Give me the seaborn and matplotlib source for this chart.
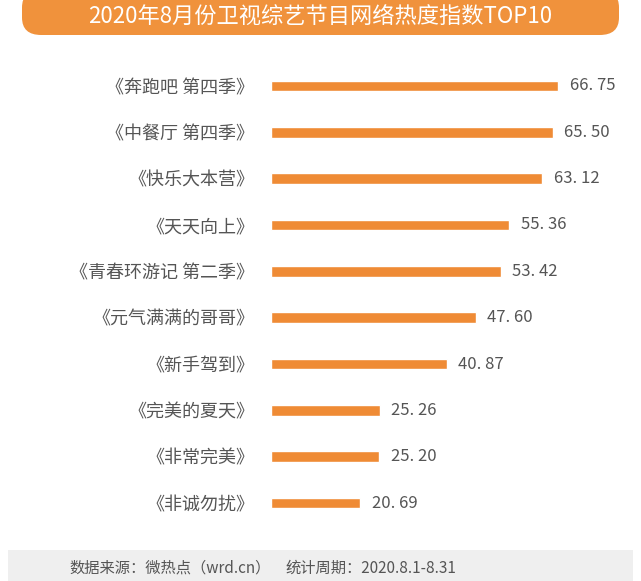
import numpy as np
import pandas as pd
import seaborn as sns
import matplotlib.pyplot as plt
from matplotlib.patches import FancyBboxPatch, Rectangle

shows = ['《奔跑吧 第四季》', '《中餐厅 第四季》', '《快乐大本营》', '《天天向上》',
         '《青春环游记 第二季》', '《元气满满的哥哥》', '《新手驾到》',
         '《完美的夏天》', '《非常完美》', '《非诚勿扰》']
scores = [66.75, 65.50, 63.12, 55.36, 53.42, 47.60, 40.87, 25.26, 25.20, 20.69]
value_labels = ['66.75', '65.50', '63.12', '55.36', '53.42', '47.60', '40.87',
                '25.26', '25.20', '20.69']

df = pd.DataFrame({'show': shows, 'score': scores})

sns.set_theme(style='white')
plt.rcParams['font.family'] = ['Noto Sans CJK SC', 'DejaVu Sans']

W, H = 641, 581
fig = plt.figure(figsize=(W / 100, H / 100), dpi=100)
fig.patch.set_facecolor('white')

# axes placed so that bars start at x=271px and rows span 63..526px
ax_left = 271 / W
ax_bottom = 1 - 526.2 / H
ax_height = (526.2 - 62.8) / H
ax = fig.add_axes([ax_left, ax_bottom, 1 - ax_left, ax_height])

bar_color = '#EF8B35'
sns.barplot(data=df, x='score', y='show', color=bar_color, width=0.23,
            saturation=1, ax=ax)
ax.set_xlim(0, (W - 271) / 4.30)
ax.set_ylim(9.5, -0.5)
ax.set_xlabel('')
ax.set_ylabel('')
ax.set_xticks([])
for s in ax.spines.values():
    s.set_visible(False)
ax.tick_params(axis='y', length=0, pad=12, labelsize=13, labelcolor='#555555')

for i, (v, lab) in enumerate(zip(scores, value_labels)):
    ax.text(v + 2.7, i, lab.replace('.', '. '), va='center', ha='left',
            fontsize=12, color='#555555')

# title banner
banner = FancyBboxPatch((22 / W, 1 - 35 / H), (W - 44) / W, 45 / H,
                        boxstyle='round,pad=0,rounding_size=0.03',
                        transform=fig.transFigure, facecolor='#F0923C',
                        edgecolor='none')
fig.add_artist(banner)
fig.text(0.5, 1 - 17 / H, '2020年8月份卫视综艺节目网络热度指数TOP10',
         ha='center', va='center', color='white', fontsize=16)

# footer band
footer = Rectangle((8 / W, 0), (W - 16) / W, 31 / H, transform=fig.transFigure,
                   facecolor='#EFEFEF', edgecolor='none')
fig.add_artist(footer)
fig.text(69 / W, 13 / H, '数据来源：微热点（wrd.cn）', ha='left', va='center',
         fontsize=11, color='#555555')
fig.text(285 / W, 13 / H, '统计周期：2020.8.1-8.31', ha='left', va='center',
         fontsize=11, color='#555555')

fig.savefig('out.png', dpi=100)
